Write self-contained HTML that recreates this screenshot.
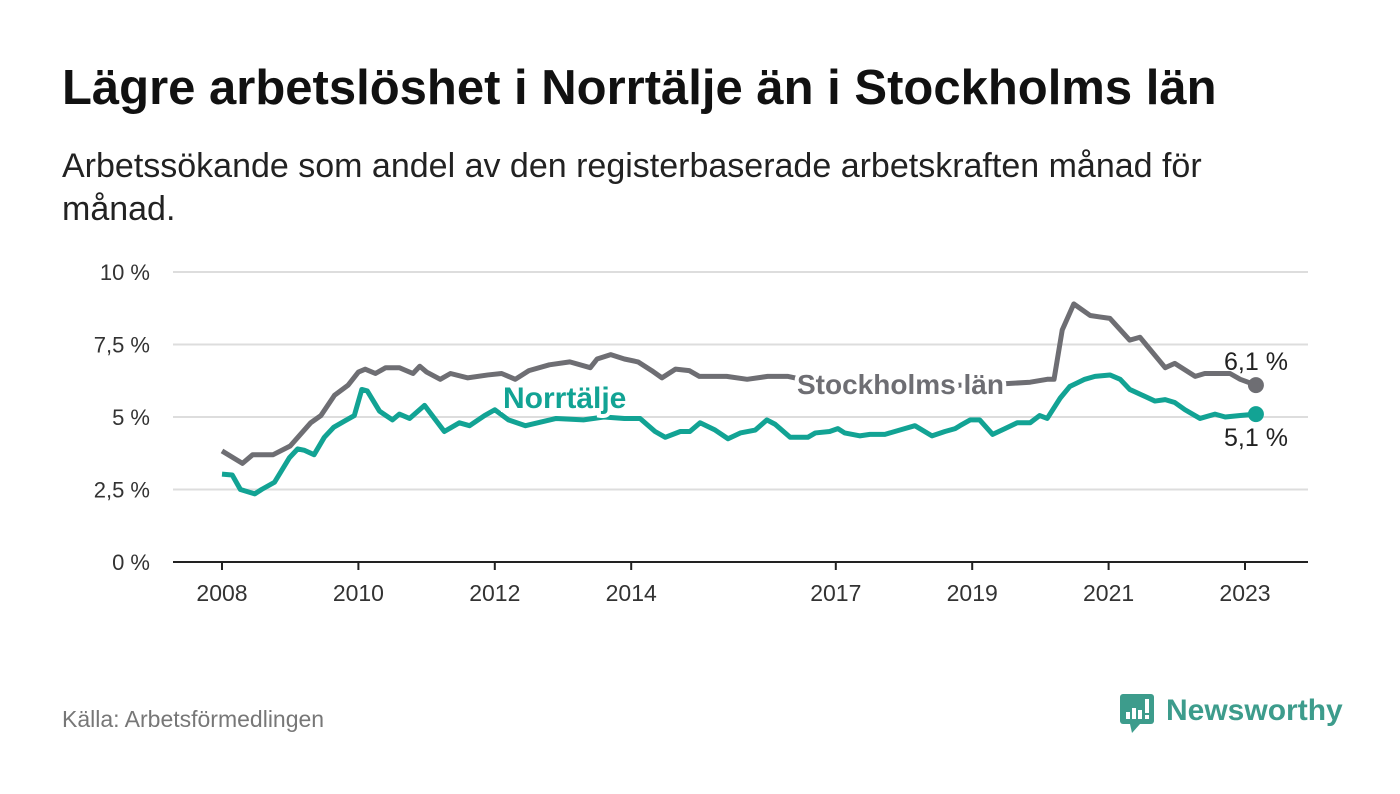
<!DOCTYPE html>
<html><head><meta charset="utf-8"><style>
body{margin:0;width:1400px;height:794px;background:#fff;font-family:"Liberation Sans",sans-serif;overflow:hidden;position:relative}
#title{position:absolute;left:62px;top:60px;font-size:49px;font-weight:bold;color:#111;margin:0;white-space:nowrap}
#sub{position:absolute;left:62px;top:145px;width:1200px;font-size:34px;line-height:43px;color:#222}
#src{position:absolute;left:62px;top:706px;font-size:23px;color:#777}
#logo{position:absolute;left:1118px;top:690px}
svg text{font-family:"Liberation Sans",sans-serif}
</style></head><body>
<h1 id="title">Lägre arbetslöshet i Norrtälje än i Stockholms län</h1>
<div id="sub">Arbetssökande som andel av den registerbaserade arbetskraften månad för månad.</div>
<svg id="chart" width="1400" height="794" style="position:absolute;left:0;top:0"></svg>
<div id="src">Källa: Arbetsförmedlingen</div>
<div id="logo">
<svg width="230" height="50"><rect x="2" y="4" width="34" height="30" rx="3" fill="#3d9c8c"/><path d="M12 34 L14 43 L22 34Z" fill="#3d9c8c"/><rect x="8" y="22" width="4" height="7" fill="#fff"/><rect x="14" y="18" width="4" height="11" fill="#fff"/><rect x="20" y="20" width="4" height="9" fill="#fff"/><rect x="27" y="9" width="4" height="14" fill="#fff"/><rect x="27" y="25" width="4" height="4" fill="#fff"/><text x="48" y="30" font-size="30" font-weight="bold" fill="#3d9c8c">Newsworthy</text></svg>
</div>
<script>
const yTicks=[0,2.5,5,7.5,10];
const yTickLabels=["0 %","2,5 %","5 %","7,5 %","10 %"];
const xTicks=[2008,2010,2012,2014,2017,2019,2021,2023];
const stoDates=[2008.0,2008.3,2008.45,2008.75,2009.0,2009.3,2009.45,2009.65,2009.85,2010.0,2010.1,2010.25,2010.4,2010.6,2010.8,2010.9,2011.0,2011.2,2011.35,2011.6,2011.9,2012.1,2012.3,2012.5,2012.8,2013.1,2013.4,2013.5,2013.7,2013.9,2014.1,2014.3,2014.45,2014.65,2014.85,2015.0,2015.4,2015.7,2016.0,2016.3,2016.5,2016.65,2017.0,2017.5,2018.0,2018.5,2019.0,2019.5,2019.85,2020.1,2020.2,2020.32,2020.49,2020.73,2020.87,2021.02,2021.31,2021.46,2021.83,2021.97,2022.27,2022.41,2022.78,2022.93,2023.16];
const stoVals=[3.83,3.4,3.7,3.7,4.0,4.8,5.05,5.75,6.1,6.55,6.65,6.5,6.7,6.7,6.5,6.75,6.55,6.3,6.5,6.35,6.45,6.5,6.3,6.6,6.8,6.9,6.7,7.0,7.15,7.0,6.9,6.6,6.35,6.65,6.6,6.4,6.4,6.3,6.4,6.4,6.3,6.1,6.1,6.1,6.1,6.1,6.1,6.15,6.2,6.3,6.3,8.0,8.9,8.5,8.45,8.4,7.65,7.75,6.7,6.85,6.4,6.5,6.5,6.3,6.1];
const norDates=[2008.0,2008.15,2008.27,2008.48,2008.58,2008.77,2008.99,2009.11,2009.21,2009.35,2009.5,2009.64,2009.79,2009.94,2010.05,2010.13,2010.31,2010.5,2010.6,2010.75,2010.97,2011.26,2011.48,2011.63,2011.85,2012.0,2012.2,2012.45,2012.9,2013.3,2013.6,2013.9,2014.13,2014.35,2014.5,2014.72,2014.86,2015.01,2015.23,2015.42,2015.6,2015.82,2015.99,2016.11,2016.33,2016.59,2016.7,2016.91,2017.03,2017.13,2017.35,2017.5,2017.72,2018.01,2018.16,2018.41,2018.6,2018.75,2018.82,2018.97,2019.11,2019.3,2019.48,2019.66,2019.85,2019.99,2020.1,2020.29,2020.43,2020.65,2020.8,2021.02,2021.17,2021.31,2021.68,2021.83,2021.97,2022.12,2022.34,2022.56,2022.71,2022.93,2023.16];
const norVals=[3.03,3.0,2.5,2.35,2.5,2.75,3.6,3.9,3.85,3.7,4.3,4.65,4.85,5.05,5.95,5.9,5.2,4.9,5.1,4.95,5.4,4.5,4.8,4.7,5.05,5.25,4.9,4.7,4.95,4.9,5.0,4.95,4.95,4.5,4.3,4.5,4.5,4.8,4.55,4.25,4.45,4.55,4.9,4.75,4.3,4.3,4.45,4.5,4.6,4.45,4.35,4.4,4.4,4.6,4.7,4.35,4.5,4.6,4.7,4.9,4.9,4.4,4.6,4.8,4.8,5.05,4.95,5.65,6.05,6.3,6.4,6.45,6.3,5.95,5.55,5.6,5.5,5.25,4.95,5.1,5.0,5.05,5.1];
const NS="http://www.w3.org/2000/svg";
const svg=document.getElementById('chart');
const X=y=>222+(y-2008)*68.2;
const Y=v=>562-29*v;
function el(t,a){const e=document.createElementNS(NS,t);for(const k in a)e.setAttribute(k,a[k]);svg.appendChild(e);return e;}
yTicks.forEach((t,i)=>{
 const g=el('line',{x1:173,x2:1308,y1:Y(t),y2:Y(t),stroke:i==0?'#222':'#ddd','stroke-width':2});
 
 
 const tx=el('text',{x:150,y:Y(t)+8,'text-anchor':'end','font-size':22,fill:'#333'});tx.textContent=yTickLabels[i];
 
 
});
xTicks.forEach(t=>{
 const l=el('line',{x1:X(t),x2:X(t),y1:562,y2:570,stroke:'#222','stroke-width':2});
 
 
 const tx=el('text',{x:X(t),y:601,'text-anchor':'middle','font-size':23,fill:'#333'});tx.textContent=t;
 
 
});
function line(d,v,c,name){
 const p=el('polyline',{points:d.map((x,i)=>X(x)+','+Y(v[i])).join(' '),fill:'none',stroke:c,'stroke-width':5,'stroke-linejoin':'round'});
 
 
 const n=d.length-1;
 const c2=el('circle',{cx:X(d[n]),cy:Y(v[n]),r:8,fill:c});
 
 
}
line(stoDates,stoVals,'#6e6e73','stockholm-line');
line(norDates,norVals,'#12a394','norrtalje-line');
const l1=el('text',{x:797,y:394,'font-size':28,'font-weight':'bold',fill:'#6e6e73',stroke:'#fff','stroke-width':8,'paint-order':'stroke'});l1.textContent='Stockholms län';


const l2=el('text',{x:503,y:408,'font-size':30,'font-weight':'bold',fill:'#12a394',stroke:'#fff','stroke-width':8,'paint-order':'stroke'});l2.textContent='Norrtälje';


const n1=stoVals.length-1,n2=norVals.length-1;
const v1=el('text',{x:1256,y:Y(stoVals[n1])-15,'text-anchor':'middle','font-size':25,fill:'#222'});v1.textContent=stoVals[n1].toFixed(1).replace('.',',')+' %';


const v2=el('text',{x:1256,y:Y(norVals[n2])+32,'text-anchor':'middle','font-size':25,fill:'#222'});v2.textContent=norVals[n2].toFixed(1).replace('.',',')+' %';


</script>
</body></html>
